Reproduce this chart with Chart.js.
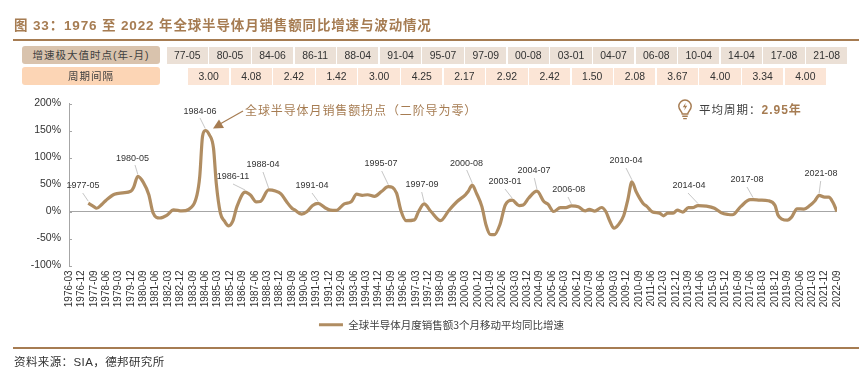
<!DOCTYPE html>
<html lang="zh">
<head>
<meta charset="UTF-8">
<title>全球半导体月销售额同比增速</title>
<script src="https://cdn.jsdelivr.net/npm/chart.js@4/dist/chart.umd.min.js"></script>
<style>
  html, body { margin: 0; padding: 0; background: #fff; }
  #page { position: relative; width: 859px; height: 370px; overflow: hidden;
    font-family: "Liberation Sans", "Noto Sans CJK SC", sans-serif; }
  #page canvas { position: absolute; left: 0; top: 0; }
  .abs { position: absolute; white-space: nowrap; }
  .title { left: 14px; top: 17px; font-size: 13.5px; line-height: 18px; font-weight: bold; color: #a67c52; letter-spacing: 0.85px; }
  .rule { left: 13px; right: 0; height: 2px; background: #a67c52; }
  .cell { font-size: 10.4px; line-height: 17px; height: 17px; text-align: center; color: #333; }
  .head { left: 22px; width: 138px; height: 18px; line-height: 18px; border-radius: 3px; text-align: center; font-size: 10.5px; letter-spacing: 1px; color: #404040; }
  .note { left: 245px; top: 103px; font-size: 12px; line-height: 16px; color: #a67c52; letter-spacing: 0.9px; }
  .avg { left: 699px; top: 102px; font-size: 11.5px; line-height: 16px; color: #404040; letter-spacing: 1px; }
  .avg b { color: #a67c52; font-size: 12px; }
  .source { left: 14px; top: 355px; font-size: 11.5px; line-height: 15px; color: #333; letter-spacing: 0.4px; }
</style>
</head>
<body>
<div id="page">
  <canvas id="chart" width="859" height="370"></canvas>
  <div class="abs title">图 33：1976 至 2022 年全球半导体月销售额同比增速与波动情况</div>
  <div class="abs rule" style="top:39px"></div>
  <div class="abs rule" style="top:347px"></div>
  <div class="abs head" style="top:46px;background:#d9c3ad">增速极大值时点(年-月)</div>
  <div class="abs head" style="top:67px;background:#fcd5b5">周期间隔</div>
  <div id="cells"></div>
  <div class="abs note">全球半导体月销售额拐点（二阶导为零）</div>
  <svg class="abs" style="left:677px;top:99px" width="16" height="21" viewBox="0 0 16 23">
    <path d="M5 16.5 C5 13.5 1.2 12.5 1.2 8 A6.8 6.8 0 0 1 14.8 8 C14.8 12.5 11 13.5 11 16.5 Z" fill="none" stroke="#a67c52" stroke-width="1.6"/>
    <path d="M5 19 H11 M6 21.5 H10" stroke="#a67c52" stroke-width="1.6"/>
    <path d="M8.8 4 L5.6 9 H8 L7.2 12.5 L10.4 7.5 H8 Z" fill="#a67c52"/>
  </svg>
  <div class="abs avg">平均周期：<b>2.95</b><b style="letter-spacing:0">年</b></div>
  <div class="abs source">资料来源：SIA，德邦研究所</div>
</div>
<script>
// table above the chart
const peakTimes = ['77-05','80-05','84-06','86-11','88-04','91-04','95-07','97-09','00-08','03-01','04-07','06-08','10-04','14-04','17-08','21-08'];
const peakGaps = ['3.00','4.08','2.42','1.42','3.00','4.25','2.17','2.92','2.42','1.50','2.08','3.67','4.00','3.34','4.00'];

// x axis labels, one every 9 months
const tickLabels = ['1976-03','1976-12','1977-09','1978-06','1979-03','1979-12','1980-09','1981-06','1982-03','1982-12','1983-09','1984-06','1985-03','1985-12','1986-09','1987-06','1988-03','1988-12','1989-09','1990-06','1991-03','1991-12','1992-09','1993-06','1994-03','1994-12','1995-09','1996-06','1997-03','1997-12','1998-09','1999-06','2000-03','2000-12','2001-09','2002-06','2003-03','2003-12','2004-09','2005-06','2006-03','2006-12','2007-09','2008-06','2009-03','2009-12','2010-09','2011-06','2012-03','2012-12','2013-09','2014-06','2015-03','2015-12','2016-09','2017-06','2018-03','2018-12','2019-09','2020-06','2021-03','2021-12','2022-09'];

// series
const dates = ['1977-05','1977-09','1977-11','1978-03','1978-06','1978-12','1979-06','1979-12','1980-02','1980-05','1980-09','1981-01','1981-04','1981-09','1982-02','1982-07','1983-01','1983-06','1983-12','1984-02','1984-04','1984-06','1984-09','1984-12','1985-02','1985-05','1985-08','1985-11','1986-02','1986-05','1986-11','1987-03','1987-07','1987-10','1988-04','1988-09','1989-01','1989-05','1989-09','1989-11','1990-04','1990-08','1990-12','1991-04','1991-09','1992-01','1992-05','1992-11','1993-04','1993-08','1993-12','1994-04','1994-09','1995-02','1995-07','1996-01','1996-04','1996-08','1997-02','1997-05','1997-09','1998-02','1998-09','1999-03','1999-09','2000-03','2000-05','2000-08','2000-11','2001-03','2001-06','2001-09','2001-12','2002-04','2002-08','2003-01','2003-06','2003-09','2004-01','2004-07','2004-12','2005-03','2005-07','2005-12','2006-04','2006-08','2007-01','2007-06','2007-09','2008-01','2008-06','2008-09','2008-12','2009-03','2009-06','2009-10','2010-01','2010-04','2010-07','2010-12','2011-03','2011-07','2011-12','2012-03','2012-06','2012-10','2013-01','2013-05','2013-09','2013-12','2014-04','2014-10','2015-04','2015-09','2016-02','2016-05','2016-11','2017-06','2017-08','2018-01','2018-07','2018-12','2019-02','2019-05','2019-09','2019-12','2020-04','2020-09','2021-01','2021-05','2021-08','2021-12','2022-03','2022-06','2022-09'];
const growth = [15.4,9,6,13.5,21,32,34.5,37.6,45,65,54,31,-2,-12,-7,3,1,4,31,65,139,150,142,117,52,-3,-18,-26.5,-18,9,36,30,18,18.5,40,38,32.7,18.5,6,3,-5,0,11,15,7,2.5,2,14,18,32,30,31,28,37,46,34,3,-17,-15.5,0,14,0,-17,2,18.5,31,37,49,34,9,-25,-42.5,-43,-25,12,21,11,12,25,37.6,18.5,13.5,0,7,7,10.5,9,1,4,0.6,7.4,0,-18,-31,-25,-8,21.6,55,37,15.4,9,-1,-3,-8,-3,-3,2.5,-1,7,7,11,10,6,-2.5,-5.5,-6,9,22,22,21,20,11,-6,-14,-16,-10.5,5,4.5,10.5,20,30,26.5,26.5,17,0];

const yTicks = [200, 150, 100, 50, 0, -50, -100];
const seriesName = '全球半导体月度销售额3个月移动平均同比增速';

// peak labels: date, then label centre and where its leader line starts (page px)
const callouts = [
  ['1977-05', 83, 186, 82.7, 193],
  ['1980-05', 132.5, 158.5, 135, 165],
  ['1984-06', 200, 111.5, 200, 118],
  ['1986-11', 233, 177, 233, 184],
  ['1988-04', 263, 165, 263, 172],
  ['1991-04', 312, 186, 312, 193],
  ['1995-07', 381, 163.5, 381.7, 171],
  ['1997-09', 422, 185, 421.7, 192],
  ['2000-08', 466.5, 163.5, 466.7, 170],
  ['2003-01', 505, 182, 505, 189],
  ['2004-07', 534, 171, 534.3, 178],
  ['2006-08', 568.7, 189.5, 568, 197],
  ['2010-04', 626, 161, 626, 168],
  ['2014-04', 689, 186, 688, 193],
  ['2017-08', 747, 180, 747, 187],
  ['2021-08', 821, 174, 820.7, 181]
];

function monthIndex(d) {
  const p = d.split('-');
  return (Number(p[0]) - 1976) * 12 + Number(p[1]) - 3;
}

// table cells
const cellBox = document.getElementById('cells');
function addCell(text, left, top, bg) {
  const el = document.createElement('div');
  el.className = 'abs cell';
  el.style.cssText = `left:${left}px;top:${top}px;width:41.3px;background:${bg}`;
  el.textContent = text;
  cellBox.appendChild(el);
}
peakTimes.forEach((t, i) => addCell(t, 166.7 + i * 42.62, 47, '#ebe0d6'));
peakGaps.forEach((t, i) => addCell(t, 188 + i * 42.62, 67.5, '#fbe5d6'));

const overlay = {
  id: 'overlay',
  afterLayout(chart) {
    // legend sits right of the chart's centre in the reference
    chart.legend.left += 23;
    chart.legend.right += 23;
  },
  afterDatasetsDraw(chart) {
    const ctx = chart.ctx, x = chart.scales.x, y = chart.scales.y;
    ctx.save();
    // small ticks on the inside of the y axis
    ctx.strokeStyle = '#a6a6a6';
    ctx.lineWidth = 1;
    yTicks.forEach(v => {
      const py = Math.round(y.getPixelForValue(v)) + 0.5;
      ctx.beginPath();
      ctx.moveTo(x.left, py);
      ctx.lineTo(x.left + 3, py);
      ctx.stroke();
    });
    // peak labels and leader lines
    ctx.font = '9px "Liberation Sans"';
    ctx.textAlign = 'center';
    ctx.textBaseline = 'middle';
    callouts.forEach(c => {
      const v = growth[dates.indexOf(c[0])];
      ctx.strokeStyle = '#b3b3b3';
      ctx.lineWidth = 0.75;
      ctx.beginPath();
      ctx.moveTo(c[3], c[4]);
      ctx.lineTo(x.getPixelForValue(monthIndex(c[0])), y.getPixelForValue(v) - 2);
      ctx.stroke();
      ctx.fillStyle = '#333';
      ctx.fillText(c[0], c[1], c[2]);
    });
    // arrow to the 1984-06 peak
    ctx.strokeStyle = ctx.fillStyle = '#a67c52';
    ctx.lineWidth = 1.2;
    ctx.beginPath();
    ctx.moveTo(243, 111);
    ctx.lineTo(220, 124);
    ctx.stroke();
    ctx.beginPath();
    ctx.moveTo(213, 128.5);
    ctx.lineTo(219, 119.5);
    ctx.lineTo(224, 128);
    ctx.closePath();
    ctx.fill();
    ctx.restore();
  }
};

new Chart(document.getElementById('chart'), {
  type: 'line',
  plugins: [overlay],
  data: {
    datasets: [{
      label: seriesName,
      data: dates.map((d, i) => ({ x: monthIndex(d), y: growth[i] })),
      borderColor: '#b08d62',
      backgroundColor: '#b08d62',
      borderWidth: 3.2,
      pointRadius: 0,
      pointStyle: 'line',
      cubicInterpolationMode: 'monotone'
    }]
  },
  options: {
    responsive: false,
    animation: false,
    layout: { padding: { left: 0, right: 22, top: 103.5, bottom: 30 } },
    plugins: {
      tooltip: { enabled: false },
      legend: {
        position: 'bottom',
        labels: {
          usePointStyle: true,
          pointStyle: 'line',
          pointStyleWidth: 24,
          padding: 3,
          color: '#404040',
          font: { family: '"Noto Sans CJK SC"', size: 10.5 }
        }
      }
    },
    scales: {
      x: {
        type: 'linear',
        min: 0,
        max: 558,
        grid: { display: false, tickLength: 0 },
        border: { display: false },
        afterFit(s) { s.height = 51; },
        ticks: {
          stepSize: 9,
          autoSkip: false,
          minRotation: 90,
          maxRotation: 90,
          padding: 5,
          color: '#333',
          font: { family: '"Liberation Sans"', size: 10 },
          callback: v => tickLabels[v / 9]
        }
      },
      y: {
        min: -100,
        max: 200,
        afterFit(s) { s.width = 69; },
        grid: {
          drawTicks: false,
          color: c => (c.tick && c.tick.value === 0 ? '#a6a6a6' : 'transparent')
        },
        border: { color: '#a6a6a6' },
        ticks: {
          stepSize: 50,
          padding: 8,
          color: '#333',
          font: { family: '"Liberation Sans"', size: 10.5 },
          callback: v => v + '%'
        }
      }
    }
  }
});
</script>
</body>
</html>
